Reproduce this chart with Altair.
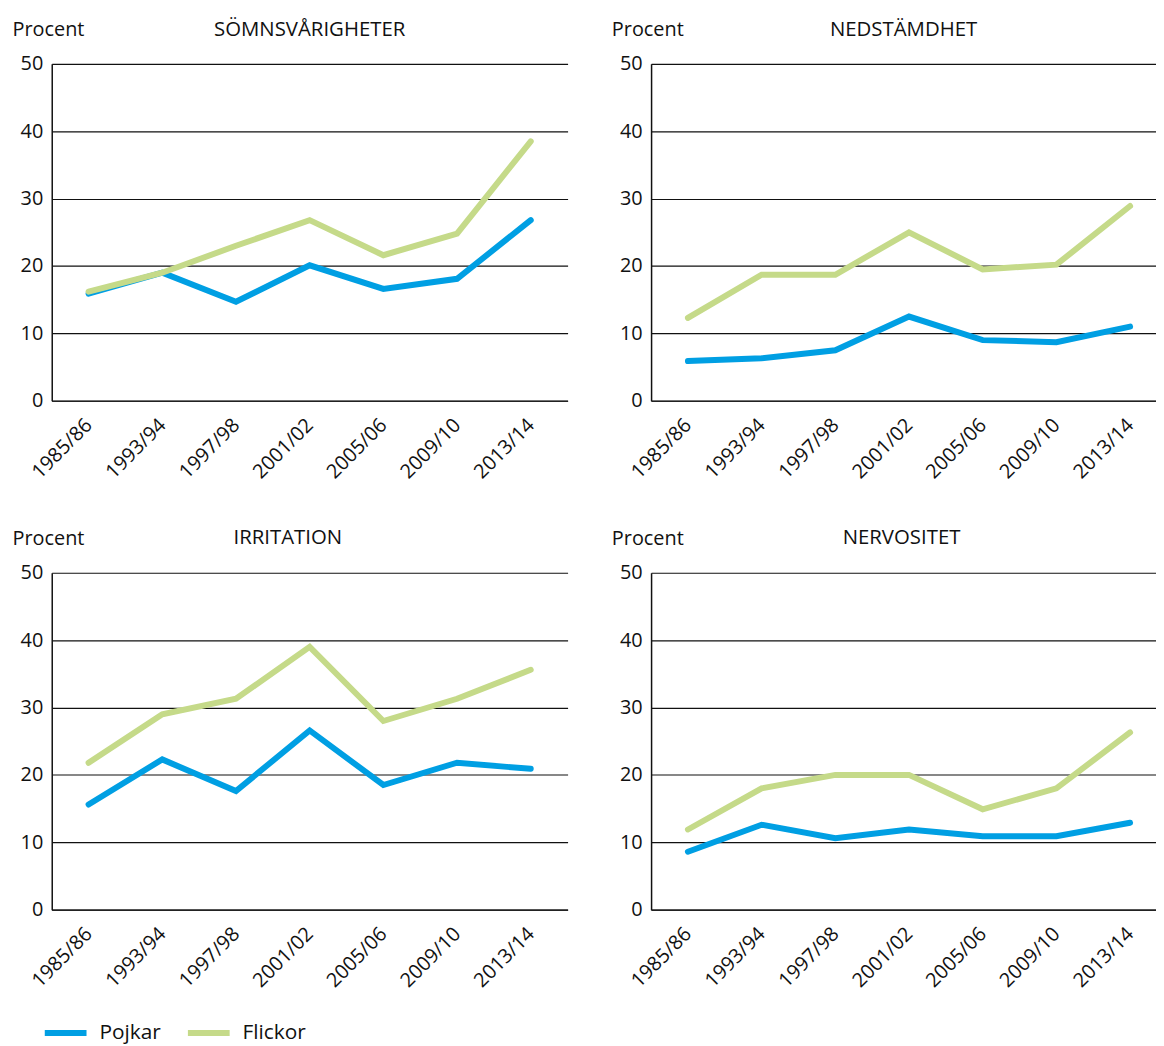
import altair as alt
import pandas as pd

years = ["1985/86", "1993/94", "1997/98", "2001/02", "2005/06", "2009/10", "2013/14"]
groups = ["Pojkar", "Flickor"]

somn_pojkar = [15.9, 19.0, 14.7, 20.1, 16.6, 18.1, 26.8]
somn_flickor = [16.2, 19.0, 23.0, 26.8, 21.6, 24.8, 38.5]
ned_pojkar = [5.9, 6.3, 7.5, 12.5, 9.0, 8.7, 11.0]
ned_flickor = [12.3, 18.7, 18.7, 25.0, 19.5, 20.2, 28.9]
irr_pojkar = [15.6, 22.3, 17.6, 26.6, 18.5, 21.8, 20.9]
irr_flickor = [21.8, 29.0, 31.3, 39.0, 28.0, 31.3, 35.6]
nerv_pojkar = [8.6, 12.6, 10.6, 11.9, 10.9, 10.9, 12.9]
nerv_flickor = [11.9, 18.0, 20.0, 20.0, 14.9, 18.0, 26.3]

panels = {
    "SÖMNSVÅRIGHETER": (somn_pojkar, somn_flickor),
    "NEDSTÄMDHET": (ned_pojkar, ned_flickor),
    "IRRITATION": (irr_pojkar, irr_flickor),
    "NERVOSITET": (nerv_pojkar, nerv_flickor),
}

BLUE = "#009fe3"
GREEN = "#c5da89"
FONT = "Open Sans"
FS = 20

label_expr = "[" + ",".join("'%s'" % y for y in years) + "][datum.value]"


def make_df(title):
    rows = []
    pojk, flick = panels[title]
    for g, vals in (("Pojkar", pojk), ("Flickor", flick)):
        for i, (yr, v) in enumerate(zip(years, vals)):
            rows.append({"idx": i, "year": yr, "group": g, "value": v})
    return pd.DataFrame(rows)


def panel(title, width, xmax, dx=0, dy=21):
    df = make_df(title)
    return (
        alt.Chart(df)
        .mark_line(strokeWidth=6, strokeCap="round", strokeJoin="miter")
        .encode(
            x=alt.X(
                "idx:Q",
                scale=alt.Scale(domain=[-0.5, xmax], nice=False, zero=False),
                axis=alt.Axis(
                    values=list(range(len(years))),
                    labelExpr=label_expr,
                    labelAngle=-45,
                    labelAlign="right",
                    labelBaseline="middle",
                    labelFontSize=FS,
                    labelPadding=21,
                    labelFlush=False,
                    labelOverlap=False,
                    labelBound=False,
                    ticks=False,
                    grid=False,
                    domain=True,
                    domainColor="#222222",
                    domainWidth=1.5,
                    title=None,
                ),
            ),
            y=alt.Y(
                "value:Q",
                scale=alt.Scale(domain=[0, 50], nice=False),
                axis=alt.Axis(
                    values=[0, 10, 20, 30, 40, 50],
                    labelFontSize=FS,
                    labelPadding=9,
                    ticks=False,
                    grid=True,
                    gridColor="#111111",
                    gridWidth=1.2,
                    domain=True,
                    domainColor="#111111",
                    domainWidth=1.5,
                    title="Procent",
                    titleAngle=0,
                    titleX=-40,
                    titleY=-28,
                    titleAlign="left",
                    titleBaseline="alphabetic",
                    titleFontSize=FS,
                    titleFontWeight="normal",
                ),
            ),
            color=alt.Color(
                "group:N",
                scale=alt.Scale(domain=groups, range=[BLUE, GREEN]),
                sort=groups,
                legend=alt.Legend(title=None),
            ),
            order=alt.Order("idx:Q"),
        )
        .properties(
            width=width,
            height=339,
            title=alt.TitleParams(
                text=title,
                anchor="middle",
                frame="group",
                fontSize=FS + 0.5,
                fontWeight="normal",
                baseline="alphabetic",
                offset=-15,
                dx=dx,
                dy=dy,
                color="#111111",
            ),
        )
    )


W_LEFT = 519
W_RIGHT = 508
XMAX_LEFT = 6.5
XMAX_RIGHT = -0.5 + W_RIGHT / (W_LEFT / 7.0)

top = alt.hconcat(
    panel("SÖMNSVÅRIGHETER", W_LEFT, XMAX_LEFT),
    panel("NEDSTÄMDHET", W_RIGHT, XMAX_RIGHT),
    spacing=44,
)
bottom = alt.hconcat(
    panel("IRRITATION", W_LEFT, XMAX_LEFT, dx=-22),
    panel("NERVOSITET", W_RIGHT, XMAX_RIGHT, dx=-2),
    spacing=44,
)

chart = (
    alt.vconcat(top, bottom, spacing=46)
    .properties(padding={"left": 4, "top": 8, "right": 0, "bottom": 0})
    .configure(font=FONT)
    .configure_view(stroke=None)
    .configure_axis(labelColor="#111111", titleColor="#111111")
    .configure_legend(
        orient="none",
        legendX=-10,
        legendY=951,
        direction="horizontal",
        symbolType="stroke",
        symbolSize=1764,
        symbolStrokeWidth=6,
        labelFontSize=21,
        labelOffset=10,
        columnPadding=15,
        labelColor="#111111",
    )
)

chart.save("out.html", embed_options={"renderer": "svg", "actions": False})
